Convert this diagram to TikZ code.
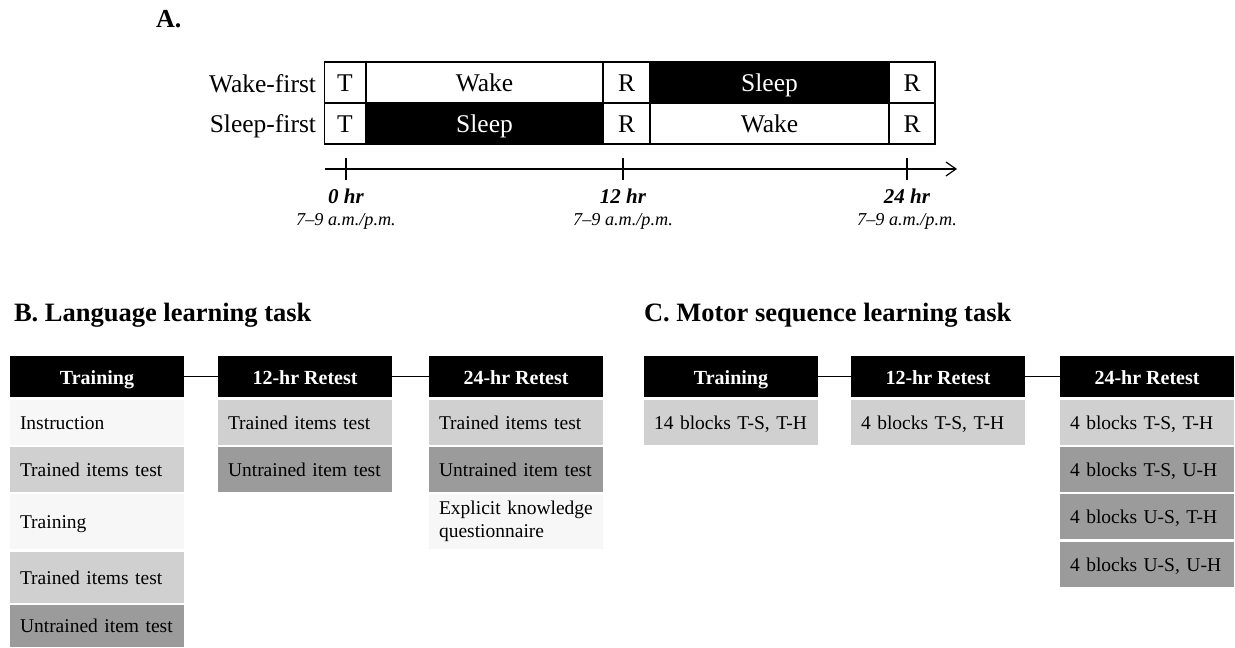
\documentclass[tikz,border=0pt]{standalone}
\usepackage{fontspec}
\setmainfont{Liberation Serif}
\usetikzlibrary{arrows.meta}
\definecolor{celllight}{HTML}{F7F7F7}
\definecolor{cellmid}{HTML}{D0D0D0}
\definecolor{celldark}{HTML}{9B9B9B}

\begin{document}
\begin{tikzpicture}[x=0.5pt, y=-0.5pt,
  every node/.style={inner sep=0pt, outer sep=0pt},
  panelhead/.style={font=\bfseries\fontsize{13.25}{16}\selectfont},
  tlfont/.style={font=\fontsize{12.75}{15}\selectfont},
  slot/.style={draw, line width=0.75pt, inner sep=0pt, text height=9.5pt, text depth=0.5pt, tlfont},
  wakeslot/.style={slot, fill=white},
  sleepslot/.style={slot, fill=black, text=white},
  hrlab/.style={anchor=base, font=\bfseries\itshape\fontsize{10.5}{12}\selectfont},
  clocklab/.style={anchor=base, font=\itshape\fontsize{9.1}{11}\selectfont},
  hdr/.style={anchor=north west, fill=black, text=white,
    font=\bfseries\fontsize{10}{12}\selectfont,
    minimum width=87pt, minimum height=20.5pt, text height=8pt, text depth=0.5pt},
  cell/.style={anchor=north west, text width=77pt, inner xsep=5pt, inner ysep=0pt,
    align=left, font=\fontsize{9.75}{11.5}\selectfont},
  one/.style={text height=7pt, text depth=0.5pt},
  light/.style={cell, fill=celllight},
  mid/.style={cell, fill=cellmid},
  dark/.style={cell, fill=celldark},
  link/.style={line width=0.7pt},
  axisline/.style={line width=0.6pt},
]
\useasboundingbox[fill=white] (0,0) rectangle (1235,647);

% ---------- A: schedule of the two groups ----------
\node[anchor=base west, font=\bfseries\fontsize{13}{15}\selectfont] (titleA) at (156,28) {A.};

\node[anchor=base east, tlfont] (rowW) at (316,93) {Wake-first};
\node[anchor=base east, tlfont] (rowS) at (316,133) {Sleep-first};

% wake-first row
\node[wakeslot,  minimum width=20.5pt,  minimum height=20.5pt] (w1) at (345,82.5) {T};
\node[wakeslot,  minimum width=118.5pt, minimum height=20.5pt] (w2) at (484.5,82.5) {Wake};
\node[wakeslot,  minimum width=23.5pt,  minimum height=20.5pt] (w3) at (626.5,82.5) {R};
\node[sleepslot, minimum width=119.5pt, minimum height=20.5pt] (w4) at (769.5,82.5) {Sleep};
\node[wakeslot,  minimum width=23pt,    minimum height=20.5pt] (w5) at (912,82.5) {R};
% sleep-first row
\node[wakeslot,  minimum width=20.5pt,  minimum height=20.5pt] (s1) at (345,123.5) {T};
\node[sleepslot, minimum width=118.5pt, minimum height=20.5pt] (s2) at (484.5,123.5) {Sleep};
\node[wakeslot,  minimum width=23.5pt,  minimum height=20.5pt] (s3) at (626.5,123.5) {R};
\node[wakeslot,  minimum width=119.5pt, minimum height=20.5pt] (s4) at (769.5,123.5) {Wake};
\node[wakeslot,  minimum width=23pt,    minimum height=20.5pt] (s5) at (912,123.5) {R};

% time axis
\coordinate (ax0) at (325,169);
\coordinate (ax1) at (957,169);
\draw[axisline, -{Straight Barb[length=5pt, width=7pt]}] (ax0) -- (ax1);
\coordinate (tk0) at (346,169);
\coordinate (tk12) at (623,169);
\coordinate (tk24) at (907,169);
\foreach \t in {tk0, tk12, tk24}
  \draw[axisline] (\t) ++(0,-11) -- ++(0,22);

\node[hrlab] (h0)  at (346,203) {0 hr};
\node[hrlab] (h12) at (623,203) {12 hr};
\node[hrlab] (h24) at (907,203) {24 hr};
\node[clocklab] (c0)  at (346,225) {7–9 a.m./p.m.};
\node[clocklab] (c12) at (623,225) {7–9 a.m./p.m.};
\node[clocklab] (c24) at (907,225) {7–9 a.m./p.m.};

% ---------- B: language learning task ----------
\node[anchor=base west, panelhead] (titleB) at (14,321) {B. Language learning task};

\node[hdr] (bH1) at (10,356)  {Training};
\node[hdr] (bH2) at (218,356) {12-hr Retest};
\node[hdr] (bH3) at (429,356) {24-hr Retest};
\draw[link] (bH1) -- (bH2);
\draw[link] (bH2) -- (bH3);

\node[light, one, minimum height=22.5pt] (bA1) at (10,400) {Instruction};
\node[mid,   one, minimum height=22.5pt] (bA2) at (10,447) {Trained items test};
\node[light, one, minimum height=27.5pt] (bA3) at (10,494) {Training};
\node[mid,   one, minimum height=25.5pt] (bA4) at (10,552) {Trained items test};
\node[dark,  one, minimum height=21pt]   (bA5) at (10,605) {Untrained item test};

\node[mid,  one, minimum height=22.5pt] (bB1) at (218,400) {Trained items test};
\node[dark, one, minimum height=22.5pt] (bB2) at (218,447) {Untrained item test};

\node[mid,  one, minimum height=22.5pt] (bC1) at (429,400) {Trained items test};
\node[dark, one, minimum height=22.5pt] (bC2) at (429,447) {Untrained item test};
\node[light, minimum height=27.5pt]     (bC3) at (429,494) {Explicit knowledge\\questionnaire};

% ---------- C: motor sequence learning task ----------
\node[anchor=base west, panelhead] (titleC) at (644,321) {C. Motor sequence learning task};

\node[hdr] (cH1) at (644,356)  {Training};
\node[hdr] (cH2) at (851,356)  {12-hr Retest};
\node[hdr] (cH3) at (1060,356) {24-hr Retest};
\draw[link] (cH1) -- (cH2);
\draw[link] (cH2) -- (cH3);

\node[mid, one, minimum height=22.5pt] (cA1) at (644,400) {14 blocks T-S, T-H};
\node[mid, one, minimum height=22.5pt] (cB1) at (851,400) {4 blocks T-S, T-H};

\node[mid,  one, minimum height=22.5pt] (cC1) at (1060,400) {4 blocks T-S, T-H};
\node[dark, one, minimum height=22.5pt] (cC2) at (1060,447) {4 blocks T-S, U-H};
\node[dark, one, minimum height=22.5pt] (cC3) at (1060,494) {4 blocks U-S, T-H};
\node[dark, one, minimum height=22.5pt] (cC4) at (1060,542) {4 blocks U-S, U-H};
\end{tikzpicture}
\end{document}
